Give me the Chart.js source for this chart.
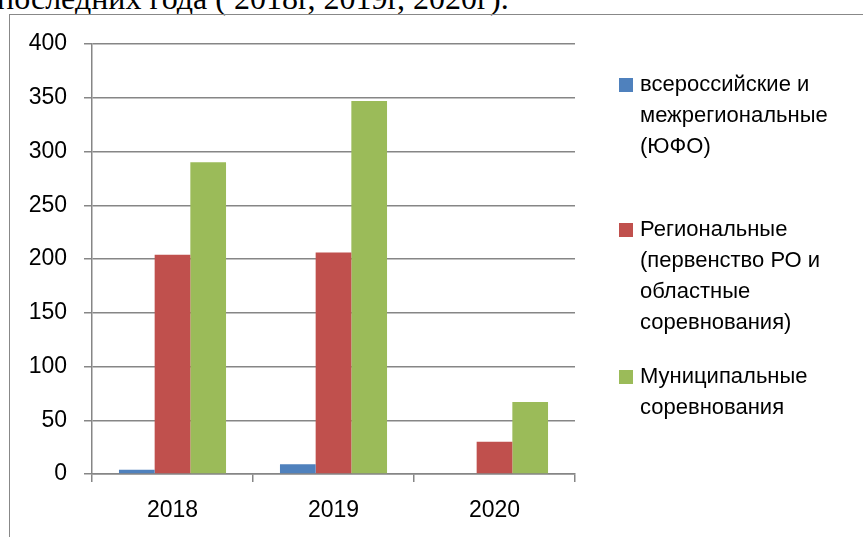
<!DOCTYPE html>
<html>
<head>
<meta charset="utf-8">
<script src="https://cdn.jsdelivr.net/npm/chart.js@4.4.1/dist/chart.umd.min.js"></script>
<style>
    body { margin: 0; background: #fff; overflow: hidden; }
    #wrap { position: relative; width: 863px; height: 537px; }
    #caption {
        position: absolute; left: -3px; top: -20px;
        font-family: "Liberation Serif", serif; font-size: 32px; color: #000;
        white-space: nowrap;
    }
    #box {
        position: absolute; left: 9px; top: 14px; width: 900px; height: 600px;
        border: 1.5px solid #888;
    }
    canvas { position: absolute; left: 0; top: 0; }
</style>
</head>
<body>
<div id="wrap">
    <div id="caption">последних года ( 2018г, 2019г, 2020г).</div>
    <div id="box"></div>
    <canvas id="myChart" width="863" height="537"></canvas>
</div>
<script>
    // данные с диаграммы
    const years = ['2018', '2019', '2020']
    const allRussia = [4, 9, 0]
    const regional = [204, 206, 30]
    const municipal = [290, 347, 67]
    const yTicks = [0, 50, 100, 150, 200, 250, 300, 350, 400]

    const legendAllRussia = ['всероссийские и', 'межрегиональные', '(ЮФО)']
    const legendRegional = ['Региональные', '(первенство РО и', 'областные', 'соревнования)']
    const legendMunicipal = ['Муниципальные', 'соревнования']

    const fontName = '"Liberation Sans", Arial, sans-serif'
    const gray = '#868686'

    // легенда с переносом строк, как в оригинале
    const wrapLegend = {
        id: 'wrapLegend',
        afterDraw(chart) {
            const ctx = chart.ctx
            const tops = [85, 230, 377]
            ctx.save()
            ctx.font = '22px ' + fontName
            ctx.textBaseline = 'middle'
            chart.data.datasets.forEach(function (ds, i) {
                ctx.fillStyle = ds.backgroundColor
                ctx.fillRect(619, tops[i] - 7, 14, 14)
                ctx.fillStyle = '#000'
                ds.legendLines.forEach(function (line, j) {
                    ctx.fillText(line, 640, tops[i] + j * 31)
                })
            })
            ctx.restore()
        }
    }

    const data = {
        labels: years,
        datasets: [{
            label: legendAllRussia.join(' '),
            legendLines: legendAllRussia,
            data: allRussia,
            backgroundColor: '#4F81BD'
        }, {
            label: legendRegional.join(' '),
            legendLines: legendRegional,
            data: regional,
            backgroundColor: '#C0504D'
        }, {
            label: legendMunicipal.join(' '),
            legendLines: legendMunicipal,
            data: municipal,
            backgroundColor: '#9BBB59'
        }]
    }

    const config = {
        type: 'bar',
        data: data,
        options: {
            responsive: false,
            animation: false,
            layout: { padding: { left: 0, top: 44, right: 288, bottom: 13 } },
            datasets: { bar: { barPercentage: 1, categoryPercentage: 0.665 } },
            plugins: {
                legend: { display: false },
                tooltip: { enabled: false }
            },
            scales: {
                x: {
                    afterFit: function (scale) { scale.height = 50 },
                    grid: { offset: true, drawOnChartArea: false, color: gray, tickLength: 8, lineWidth: 1.5 },
                    border: { color: gray, width: 1.5 },
                    ticks: { color: '#000', font: { family: fontName, size: 23 }, padding: 15 }
                },
                y: {
                    min: 0,
                    max: 400,
                    afterFit: function (scale) { scale.width = 92 },
                    afterBuildTicks: function (scale) { scale.ticks = yTicks.map(v => ({ value: v })) },
                    grid: { color: gray, tickLength: 8, lineWidth: 1.5 },
                    border: { color: gray, width: 1.5 },
                    ticks: { color: '#000', font: { family: fontName, size: 23 }, padding: 17 }
                }
            }
        },
        plugins: [wrapLegend]
    }

    new Chart(document.getElementById('myChart'), config)
</script>
</body>
</html>
